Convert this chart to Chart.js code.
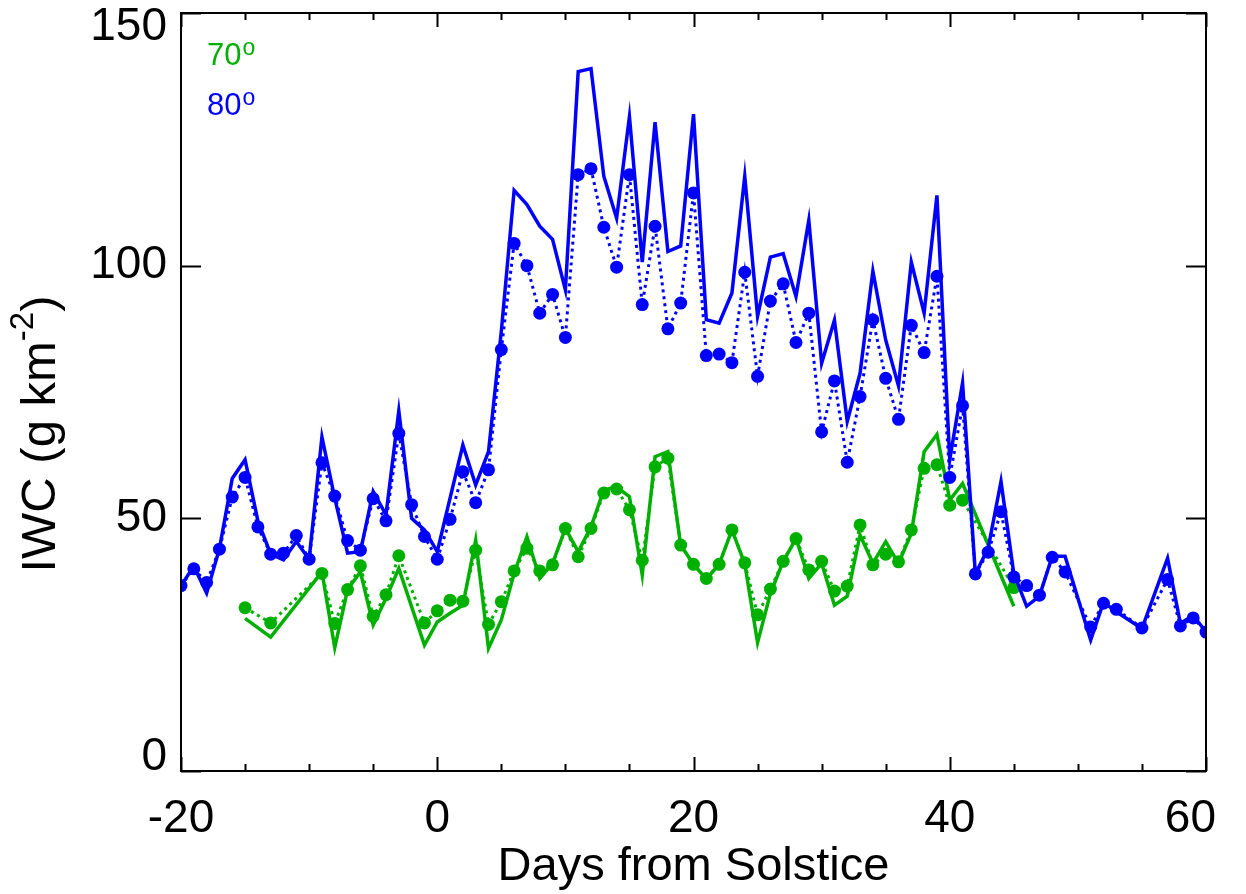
<!DOCTYPE html>
<html>
<head>
<meta charset="utf-8">
<script src="https://cdn.jsdelivr.net/npm/chart.js@4/dist/chart.umd.min.js"></script>
<style>
    html, body { margin: 0; padding: 0; background: #fff; }
    #container { width: 1246px; height: 894px; }
</style>
</head>
<body>
<div id="container"><canvas id="iwc-chart" width="1246" height="894"></canvas></div>
<script>
// days relative to the solstice
const days = [
    -20, -19, -18, -17, -16, -15, -14, -13, -12, -11,
    -10, -9, -8, -7, -6, -5, -4, -3, -2, -1,
    0, 1, 2, 3, 4, 5, 6, 7, 8, 9,
    10, 11, 12, 13, 14, 15, 16, 17, 18, 19,
    20, 21, 22, 23, 24, 25, 26, 27, 28, 29,
    30, 31, 32, 33, 34, 35, 36, 37, 38, 39,
    40, 41, 42, 43, 44, 45, 46, 47, 48, 49,
    50, 51, 52, 53, 54, 55, 56, 57, 58, 59,
    60,
];

// 80 deg, solid line
const iwc80Line = [
    36.7, 40.5, 35.2, 44.0, 57.9, 61.6, 49.5, 42.9, 41.8, 45.4,
    41.9, 66.1, 54.0, 43.1, 43.4, 55.3, 50.7, 71.3, 50.0, 47.7,
    43.4, 54.0, 64.5, 56.6, 63.2, 87.0, 114.9, 112.1, 107.8, 105.2,
    95.2, 138.4, 139.0, 117.7, 109.4, 129.5, 100.7, 128.4, 102.8, 103.9,
    130.0, 89.3, 88.6, 94.6, 117.7, 90.0, 101.7, 102.4, 93.9, 109.0,
    80.7, 89.2, 69.2, 78.7, 98.9, 85.3, 76.2, 100.7, 90.6, 113.9,
    61.6, 76.8, 39.0, 44.1, 57.3, 39.1, 32.6, 34.6, 42.5, 42.5,
    null, 25.9, 33.4, 31.5, null, 28.2, null, 42.1, 29.2, 30.8,
    27.5,
];

// 80 deg, dotted line with dots
const iwc80Dots = [
    36.7, 40.0, 37.3, 43.9, 54.2, 58.1, 48.3, 42.9, 43.1, 46.6,
    41.9, 61.0, 54.4, 45.6, 43.7, 53.9, 49.5, 66.8, 52.7, 46.4,
    41.9, 49.8, 59.2, 53.1, 59.6, 83.4, 104.4, 100.0, 90.6, 94.3,
    85.8, 118.0, 119.2, 107.6, 99.7, 118.0, 92.3, 107.8, 87.5, 92.6,
    114.4, 82.2, 82.5, 80.8, 98.7, 78.1, 93.0, 96.4, 84.8, 90.6,
    67.1, 77.2, 61.1, 74.1, 89.3, 77.7, 69.6, 88.2, 82.8, 97.9,
    58.1, 72.3, 39.0, 43.3, 51.3, 38.4, 36.7, 34.8, 42.3, 39.4,
    null, 28.5, 33.2, 32.0, null, 28.3, null, 37.9, 28.7, 30.3,
    27.5,
];

// 70 deg, solid line
const iwc70Line = [
    null, null, null, null, null, 30.2, null, 26.5, null, null,
    null, 39.4, 24.4, 35.9, 39.4, 28.9, 34.2, 40.1, null, 24.9,
    29.5, 31.2, 32.8, 45.7, 24.3, 29.9, 39.1, 46.4, 38.1, 41.1,
    48.0, 43.4, 48.3, 55.6, 56.2, 54.3, 38.8, 62.2, 63.2, 44.7,
    40.9, 38.0, 40.9, 47.7, 41.0, 25.4, 35.1, 41.5, 46.0, 38.1,
    41.1, 32.8, 34.6, 46.7, 41.1, 45.4, 41.1, 47.0, 63.2, 66.6,
    53.6, 56.9, null, null, null, 32.6, null, null, null, null,
    null, null, null, null, null, null, null, null, null, null,
    null,
];

// 70 deg, dotted line with dots
const iwc70Dots = [
    null, null, null, null, null, 32.3, null, 29.3, null, null,
    null, 39.1, 29.2, 35.9, 40.6, 30.6, 34.9, 42.6, null, 29.3,
    31.7, 33.8, 33.6, 43.7, 29.0, 33.5, 39.6, 44.1, 39.6, 40.8,
    48.0, 42.4, 48.0, 55.0, 55.8, 51.7, 41.7, 60.2, 61.9, 44.7,
    40.9, 38.1, 40.9, 47.7, 41.2, 30.9, 36.0, 41.5, 46.0, 39.8,
    41.5, 35.6, 36.6, 48.7, 40.8, 42.9, 41.4, 47.7, 59.9, 60.6,
    52.6, 53.6, null, null, null, 36.3, null, null, null, null,
    null, null, null, null, null, null, null, null, null, null,
    null,
];

const xTickLabels = [-20, 0, 20, 40, 60];
const yTickLabels = [0, 50, 100, 150];

const BLUE = "#0000ff";
const GREEN = "#00b000";
const FONT = "'Liberation Sans', Arial, Helvetica, sans-serif";

function points(values) {
    return days.map((d, i) => ({ x: d, y: values[i] }));
}

function lineSet(values, color) {
    return {
        data: points(values),
        borderColor: color,
        borderWidth: 3.5,
        pointRadius: 0,
        pointHoverRadius: 0,
        spanGaps: true,
        tension: 0,
    };
}

function dotSet(values, color) {
    return {
        data: points(values),
        borderColor: color,
        backgroundColor: color,
        borderWidth: 3,
        borderDash: [3, 4],
        pointRadius: 6.5,
        pointBorderWidth: 0,
        pointBackgroundColor: color,
        spanGaps: true,
        tension: 0,
    };
}

// box frame, inward ticks and all axis text
const framePlugin = {
    id: "frame",
    afterDraw(chart) {
        const { ctx, chartArea: a, scales: { x, y } } = chart;
        ctx.save();
        ctx.strokeStyle = "#000";
        ctx.lineWidth = 2;
        ctx.strokeRect(a.left, a.top, a.right - a.left, a.bottom - a.top);

        ctx.beginPath();
        for (let v = x.min; v <= x.max; v += 5) {
            const px = Math.round(x.getPixelForValue(v)) + 0.5;
            const len = v % 20 === 0 ? 14 : 7;
            ctx.moveTo(px, a.bottom);
            ctx.lineTo(px, a.bottom - len);
            ctx.moveTo(px, a.top);
            ctx.lineTo(px, a.top + len);
        }
        yTickLabels.forEach((v) => {
            const py = Math.round(y.getPixelForValue(v)) + 0.5;
            ctx.moveTo(a.left, py);
            ctx.lineTo(a.left + 20, py);
            ctx.moveTo(a.right, py);
            ctx.lineTo(a.right - 20, py);
        });
        ctx.stroke();

        ctx.fillStyle = "#000";
        ctx.font = `46px ${FONT}`;
        ctx.textBaseline = "middle";
        ctx.textAlign = "center";
        xTickLabels.forEach((v) => {
            const txt = String(v);
            const half = ctx.measureText(txt).width / 2;
            // keep the last label inside the canvas margin
            const px = Math.min(x.getPixelForValue(v), a.right + 10 - half);
            ctx.fillText(txt, px, a.bottom + 48);
        });
        ctx.textAlign = "right";
        yTickLabels.forEach((v) => {
            const py = Math.min(Math.max(y.getPixelForValue(v), a.top + 14), a.bottom - 14);
            ctx.fillText(String(v), a.left - 14, py);
        });

        ctx.textAlign = "center";
        ctx.font = `47px ${FONT}`;
        ctx.fillText("Days from Solstice", (a.left + a.right) / 2, a.bottom + 96);

        // y title with a superscript exponent
        ctx.save();
        ctx.translate(38, 434);
        ctx.rotate(-Math.PI / 2);
        ctx.textAlign = "left";
        ctx.textBaseline = "alphabetic";
        const main = "IWC (g km";
        const sup = "-2";
        ctx.font = `49px ${FONT}`;
        const w1 = ctx.measureText(main).width;
        const w3 = ctx.measureText(")").width;
        ctx.font = `33px ${FONT}`;
        const w2 = ctx.measureText(sup).width;
        let cx = -(w1 + w2 + w3) / 2;
        ctx.font = `49px ${FONT}`;
        ctx.fillText(main, cx, 17);
        cx += w1;
        ctx.font = `33px ${FONT}`;
        ctx.fillText(sup, cx, -5);
        cx += w2;
        ctx.font = `49px ${FONT}`;
        ctx.fillText(")", cx, 17);
        ctx.restore();

        // series labels
        const key = [["70", GREEN, 65], ["80", BLUE, 115]];
        key.forEach(([txt, color, base]) => {
            ctx.fillStyle = color;
            ctx.textAlign = "left";
            ctx.textBaseline = "alphabetic";
            ctx.font = `31px ${FONT}`;
            ctx.fillText(txt, 207, base);
            const w = ctx.measureText(txt).width;
            ctx.font = `23px ${FONT}`;
            ctx.fillText("o", 207 + w + 1, base - 10);
        });
        ctx.restore();
    },
};

new Chart(document.getElementById("iwc-chart").getContext("2d"), {
    type: "line",
    data: {
        datasets: [
            { ...lineSet(iwc80Line, BLUE), order: 0 },
            { ...dotSet(iwc80Dots, BLUE), order: 0 },
            { ...lineSet(iwc70Line, GREEN), order: 1 },
            { ...dotSet(iwc70Dots, GREEN), order: 1 },
        ],
    },
    options: {
        responsive: false,
        animation: false,
        devicePixelRatio: 1,
        layout: { padding: { left: 181, right: 40, top: 13, bottom: 123 } },
        plugins: {
            legend: { display: false },
            tooltip: { enabled: false },
        },
        scales: {
            x: { type: "linear", min: -20, max: 60, display: false },
            y: { type: "linear", min: 0, max: 150, display: false },
        },
    },
    plugins: [framePlugin],
});
</script>
</body>
</html>
